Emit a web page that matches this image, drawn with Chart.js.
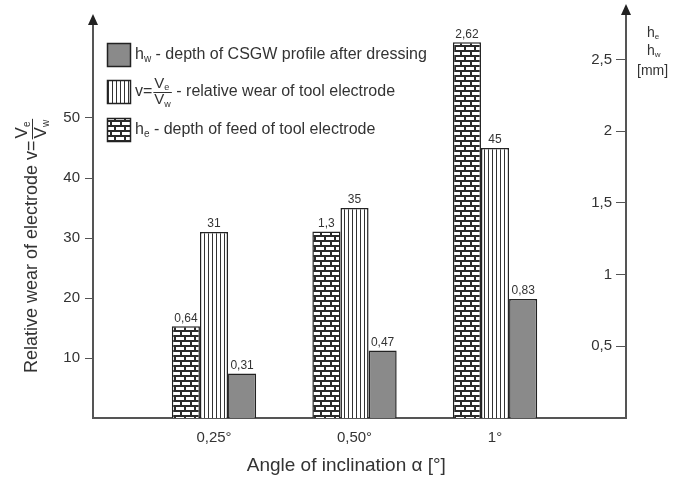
<!DOCTYPE html>
<html>
<head>
<meta charset="utf-8">
<script src="https://cdn.jsdelivr.net/npm/chart.js@4"></script>
<style>
  body { margin: 0; background: #fff; }
</style>
</head>
<body>
<canvas id="wearChart" width="684" height="480"></canvas>
<script>
// angle of inclination categories
const categories = ['0,25°', '0,50°', '1°'];
// he - depth of feed of tool electrode [mm]
const feedDepth = [0.64, 1.3, 2.62];
// v = Ve/Vw - relative wear of tool electrode
const relativeWear = [31, 35, 45];
// hw - depth of CSGW profile after dressing [mm]
const profileDepth = [0.31, 0.47, 0.83];
const leftTicks = [10, 20, 30, 40, 50];
const rightTicks = [0.5, 1, 1.5, 2, 2.5];

const textColor = '#333';
const axisColor = '#555';
const fontFamily = '"Liberation Sans", Arial, Helvetica, sans-serif';

function fmt(v) {
  return String(v).replace('.', ',');
}

function brickPattern() {
  const c = document.createElement('canvas');
  c.width = 10; c.height = 10;
  const g = c.getContext('2d');
  g.fillStyle = '#2b2b2b';
  g.fillRect(0, 0, 10, 10);
  g.fillStyle = '#fff';
  g.fillRect(2, 2, 8, 3);
  g.fillRect(0, 7, 4, 3);
  g.fillRect(6, 7, 4, 3);
  return g.createPattern(c, 'repeat');
}

function stripePattern() {
  const c = document.createElement('canvas');
  c.width = 4; c.height = 4;
  const g = c.getContext('2d');
  g.fillStyle = '#fff';
  g.fillRect(0, 0, 4, 4);
  g.fillStyle = '#333';
  g.fillRect(0, 0, 1, 4);
  return g.createPattern(c, 'repeat');
}

const toPoints = arr => arr.map((v, i) => ({ x: i + 1, y: v }));

// draw text runs with optional subscripts, returns end x
function drawRuns(ctx, runs, x, y, size) {
  runs.forEach(r => {
    if (r.sub) {
      ctx.font = Math.round(size * 0.6) + 'px ' + fontFamily;
      ctx.fillText(r.t, x, y + size * 0.28);
    } else {
      ctx.font = size + 'px ' + fontFamily;
      ctx.fillText(r.t, x, y);
    }
    x += ctx.measureText(r.t).width;
  });
  return x;
}

function runsWidth(ctx, runs, size) {
  let w = 0;
  runs.forEach(r => {
    ctx.font = (r.sub ? Math.round(size * 0.6) : size) + 'px ' + fontFamily;
    w += ctx.measureText(r.t).width;
  });
  return w;
}

// draws "V_e / V_w" fraction starting at x, centred on y; returns end x
function drawFraction(ctx, x, y, size) {
  const num = [{ t: 'V' }, { t: 'e', sub: true }];
  const den = [{ t: 'V' }, { t: 'w', sub: true }];
  const w = Math.max(runsWidth(ctx, num, size), runsWidth(ctx, den, size)) + 2;
  drawRuns(ctx, num, x + 1, y - size * 0.55, size);
  drawRuns(ctx, den, x + 1, y + size * 0.55, size);
  ctx.beginPath();
  ctx.lineWidth = 1;
  ctx.moveTo(x, y + 0.5);
  ctx.lineTo(x + w, y + 0.5);
  ctx.stroke();
  return x + w;
}

const decorations = {
  id: 'decorations',
  afterDraw(chart) {
    const ctx = chart.ctx;
    const area = chart.chartArea;
    ctx.save();

    // axis arrows
    ctx.fillStyle = '#222';
    ctx.strokeStyle = axisColor;
    ctx.lineWidth = 2;
    ctx.beginPath();
    ctx.moveTo(area.right, area.top);
    ctx.lineTo(area.right, area.top - 10);
    ctx.stroke();
    [[area.left, area.top], [area.right, area.top - 10]].forEach(([x, base]) => {
      ctx.beginPath();
      ctx.moveTo(x, base - 11);
      ctx.lineTo(x - 5, base);
      ctx.lineTo(x + 5, base);
      ctx.closePath();
      ctx.fill();
    });

    // value labels above bars
    ctx.fillStyle = textColor;
    ctx.font = '12px ' + fontFamily;
    ctx.textAlign = 'center';
    ctx.textBaseline = 'bottom';
    chart.data.datasets.forEach((ds, di) => {
      chart.getDatasetMeta(di).data.forEach((bar, i) => {
        ctx.fillText(fmt(ds.data[i].y), bar.x, bar.y - 2);
      });
    });

    // legend (order: hw, v, he)
    ctx.textAlign = 'left';
    ctx.textBaseline = 'middle';
    ctx.strokeStyle = '#222';
    ctx.lineWidth = 1.5;
    const items = [
      { ds: 2, top: 43, runs: [{ t: 'h' }, { t: 'w', sub: true }, { t: ' - depth of CSGW profile after dressing' }] },
      { ds: 1, top: 80, frac: true },
      { ds: 0, top: 118, runs: [{ t: 'h' }, { t: 'e', sub: true }, { t: ' - depth of feed of tool electrode' }] }
    ];
    items.forEach(it => {
      const ds = chart.data.datasets[it.ds];
      ctx.fillStyle = ds.backgroundColor;
      ctx.fillRect(107, it.top, 23, 23);
      ctx.lineWidth = 1.5;
      ctx.strokeRect(107.5, it.top + 0.5, 23, 23);
      ctx.fillStyle = textColor;
      ctx.strokeStyle = textColor;
      const cy = it.top + 12;
      if (it.frac) {
        let x = drawRuns(ctx, [{ t: 'v=' }], 135, cy, 16);
        x = drawFraction(ctx, x + 1, cy, 15);
        drawRuns(ctx, [{ t: ' - relative wear of tool electrode' }], x, cy, 16);
      } else {
        drawRuns(ctx, it.runs, 135, cy, 16);
      }
      ctx.strokeStyle = '#222';
    });

    // left axis title, rotated
    ctx.save();
    ctx.translate(32, 373);
    ctx.rotate(-Math.PI / 2);
    ctx.fillStyle = textColor;
    ctx.strokeStyle = textColor;
    let tx = drawRuns(ctx, [{ t: 'Relative wear of electrode v=' }], 0, 0, 18);
    drawFraction(ctx, tx + 1, 0, 17);
    ctx.restore();

    // right axis title
    ctx.fillStyle = textColor;
    drawRuns(ctx, [{ t: 'h' }, { t: 'e', sub: true }], 647, 33, 14);
    drawRuns(ctx, [{ t: 'h' }, { t: 'w', sub: true }], 647, 51, 14);
    drawRuns(ctx, [{ t: '[mm]' }], 637, 71, 14);

    ctx.restore();
  }
};

const ctx = document.getElementById('wearChart').getContext('2d');

new Chart(ctx, {
  type: 'bar',
  data: {
    datasets: [
      {
        label: 'he - depth of feed of tool electrode',
        data: toPoints(feedDepth),
        yAxisID: 'y1',
        backgroundColor: brickPattern(),
        borderColor: '#222',
        borderWidth: 1.5
      },
      {
        label: 'v = Ve/Vw - relative wear of tool electrode',
        data: toPoints(relativeWear),
        yAxisID: 'y',
        backgroundColor: stripePattern(),
        borderColor: '#222',
        borderWidth: 1.5
      },
      {
        label: 'hw - depth of CSGW profile after dressing',
        data: toPoints(profileDepth),
        yAxisID: 'y1',
        backgroundColor: '#8a8a8a',
        borderColor: '#222',
        borderWidth: 1.5
      }
    ]
  },
  options: {
    responsive: false,
    animation: false,
    categoryPercentage: 0.6,
    barPercentage: 1.0,
    layout: { padding: { top: 25, left: 0, right: 0, bottom: 0 } },
    plugins: {
      legend: { display: false },
      tooltip: { enabled: false }
    },
    scales: {
      x: {
        type: 'linear',
        offset: false,
        min: 0.139,
        max: 3.932,
        afterBuildTicks: scale => {
          scale.ticks = categories.map((c, i) => ({ value: i + 1 }));
        },
        afterFit: scale => { scale.height = 62; },
        ticks: {
          callback: v => categories[v - 1] || '',
          color: textColor,
          font: { family: fontFamily, size: 15 },
          padding: 11,
          maxRotation: 0
        },
        grid: { display: false, drawTicks: false },
        border: { display: true, color: axisColor, width: 2 },
        title: {
          display: true,
          text: 'Angle of inclination α [°]     ',
          color: textColor,
          font: { family: fontFamily, size: 19 },
          padding: { top: 0, bottom: 3 }
        }
      },
      y: {
        position: 'left',
        min: 0,
        max: 65.5,
        afterBuildTicks: scale => {
          scale.ticks = leftTicks.map(v => ({ value: v }));
        },
        afterFit: scale => { scale.width = 93; },
        ticks: {
          color: textColor,
          font: { family: fontFamily, size: 15 },
          padding: 5
        },
        grid: { drawOnChartArea: false, tickLength: 8, color: axisColor },
        border: { display: true, color: axisColor, width: 2 }
      },
      y1: {
        position: 'right',
        min: 0,
        max: 2.74,
        afterBuildTicks: scale => {
          scale.ticks = rightTicks.map(v => ({ value: v }));
        },
        afterFit: scale => { scale.width = 58; },
        ticks: {
          mirror: true,
          crossAlign: 'near',
          callback: v => fmt(v),
          color: textColor,
          font: { family: fontFamily, size: 15 },
          padding: -14
        },
        grid: { drawOnChartArea: false, tickLength: -10, color: axisColor },
        border: { display: true, color: axisColor, width: 2 }
      }
    }
  },
  plugins: [decorations]
});
</script>
</body>
</html>
